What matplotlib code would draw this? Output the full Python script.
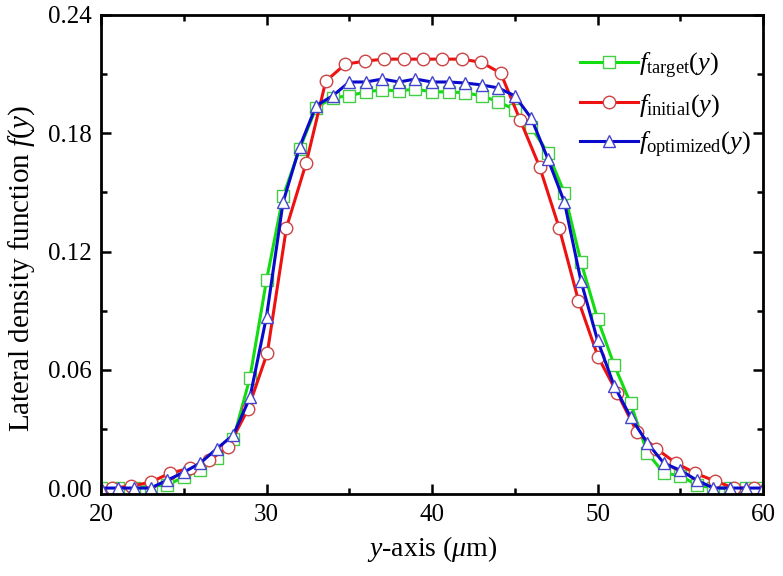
import matplotlib
matplotlib.use("Agg")
import matplotlib.pyplot as plt
from matplotlib.ticker import MultipleLocator

plt.rcParams['font.family'] = ['Liberation Serif', 'DejaVu Serif']
plt.rcParams['mathtext.fontset'] = 'custom'
plt.rcParams['mathtext.rm'] = 'Liberation Serif'
plt.rcParams['mathtext.it'] = 'Liberation Serif:italic'

# target profile (squares), one point per micron
y_target = list(range(20, 61))
f_target = [0.000, 0.000, 0.000, 0.001, 0.0015, 0.0056, 0.009, 0.015, 0.025, 0.056,
            0.1055, 0.148, 0.172, 0.193, 0.198, 0.199, 0.201, 0.202, 0.2015, 0.2024,
            0.201, 0.201, 0.2005, 0.199, 0.196, 0.192, 0.183, 0.170, 0.1497, 0.1147,
            0.086, 0.0625, 0.043, 0.018, 0.0076, 0.0063, 0.0015, 0.000, 0.000, 0.000,
            0.000]

# initial profile (circles)
y_initial = [20.65, 21.83, 23.0, 24.18, 25.35, 26.53, 27.7, 28.88, 30.05, 31.2,
             32.4, 33.58, 34.75, 35.93, 37.1, 38.28, 39.45, 40.63, 41.8, 42.98,
             44.15, 45.33, 46.5, 47.68, 48.85, 50.03, 51.2, 52.38, 53.55, 54.73,
             55.9, 57.08, 58.25, 59.43]
f_initial = [0.000, 0.001, 0.003, 0.0076, 0.010, 0.014, 0.021, 0.040, 0.0686, 0.132,
             0.165, 0.2064, 0.215, 0.2166, 0.2176, 0.2176, 0.2176, 0.2176, 0.2176, 0.216,
             0.2105, 0.1866, 0.163, 0.132, 0.095, 0.0666, 0.048, 0.0285, 0.020, 0.0127,
             0.0076, 0.0036, 0.000, 0.000]

# optimized profile (triangles)
y_opt = list(range(20, 61))
f_opt = [0.000, 0.000, 0.000, 0.000, 0.004, 0.008, 0.0127, 0.020, 0.027, 0.046,
         0.087, 0.145, 0.173, 0.194, 0.199, 0.206, 0.206, 0.2075, 0.206, 0.2075,
         0.206, 0.206, 0.2055, 0.2045, 0.203, 0.199, 0.1876, 0.167, 0.145, 0.105,
         0.075, 0.052, 0.036, 0.023, 0.0127, 0.009, 0.004, 0.000, 0.000, 0.000,
         0.000]

fig = plt.figure(figsize=(7.83, 5.76), dpi=100)
ax = fig.add_axes([0.129, 0.1424, 0.8455, 0.8316])

ax.plot(y_target, f_target, color='#11dd11', lw=2.2, marker='s', ms=8,
        mfc='white', mec='#44cc44', mew=1, label=r'$f_{\rm target}(y)$')
ax.plot(y_initial, f_initial, color='#ee1111', lw=2.2, marker='o', ms=9,
        mfc='white', mec='#cc4444', mew=1, label=r'$f_{\rm initial}(y)$')
ax.plot(y_opt, f_opt, color='#0a0acc', lw=2.2, marker='^', ms=9,
        mfc='white', mec='#4444cc', mew=1, label=r'$f_{\rm optimized}(y)$')

ax.set_xlim(20, 60)
ax.set_ylim(-0.003, 0.24)
ax.xaxis.set_major_locator(MultipleLocator(10))
ax.xaxis.set_minor_locator(MultipleLocator(5))
ax.yaxis.set_major_locator(MultipleLocator(0.06))
ax.yaxis.set_minor_locator(MultipleLocator(0.03))
ax.yaxis.set_major_formatter(matplotlib.ticker.FormatStrFormatter('%.2f'))
ax.tick_params(which='both', direction='in', top=True, right=True, width=1.8)
ax.tick_params(which='major', length=7, labelsize=18, pad=7)
ax.tick_params(which='minor', length=4)
for s in ax.spines.values():
    s.set_linewidth(2)

ax.set_xlabel(r'$y$-axis ($\mu$m)', fontsize=20, labelpad=6)
ax.set_ylabel(r'Lateral density function $f$($y$)', fontsize=21)
ax.yaxis.set_label_coords(-0.097, 0.47)

ax.legend(loc='upper left', bbox_to_anchor=(0.7236, 0.925), frameon=False,
          fontsize=19, handlelength=2.2, handletextpad=0.05, labelspacing=0.42,
          borderpad=0, borderaxespad=0)

fig.savefig('out.png', dpi=100)
